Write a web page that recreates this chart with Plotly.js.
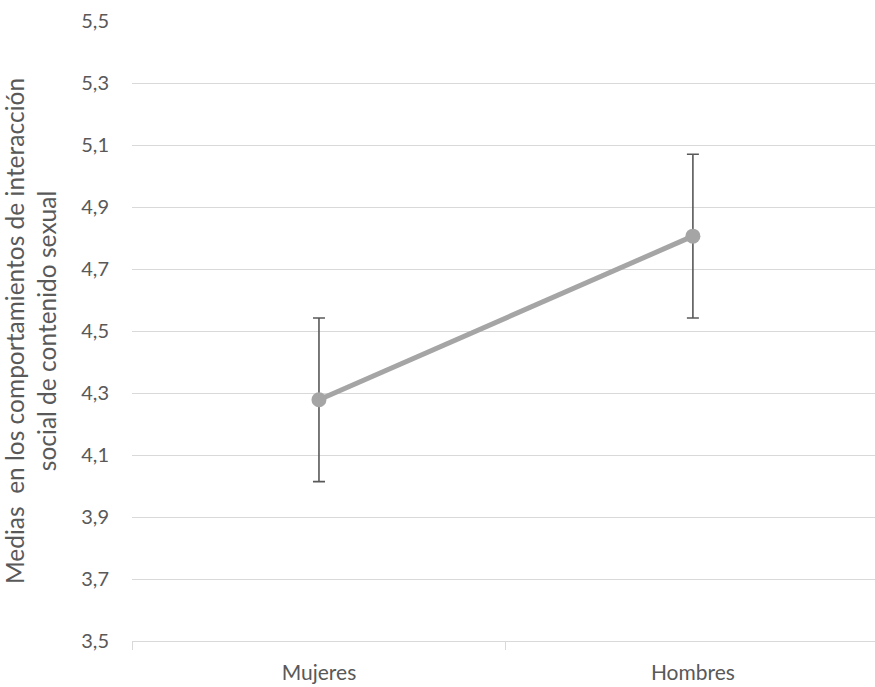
<!DOCTYPE html>
<html>
<head>
<meta charset="utf-8">
<script src="https://cdn.plot.ly/plotly-3.0.1.min.js"></script>
<style>html,body{margin:0;padding:0;background:#fff;}#chart{width:875px;height:687px;}</style>
</head>
<body>
<div id="chart"></div>
<script>
const categories = ['Mujeres', 'Hombres'];
const means = [4.278, 4.806];
const errors = [0.264, 0.264];
const yTitle = 'Medias  en los comportamientos de interacción<br>social de contenido sexual';

const trace = {
  x: categories,
  y: means,
  type: 'scatter',
  mode: 'lines+markers',
  line: {color: '#A5A5A5', width: 5},
  marker: {color: '#A5A5A5', size: 15},
  error_y: {type: 'data', array: errors, visible: true, color: '#595959', thickness: 1.6, width: 6},
  hoverinfo: 'none'
};

const layout = {
  width: 875, height: 687,
  margin: {l: 132, r: 0, t: 21, b: 46},
  paper_bgcolor: '#fff', plot_bgcolor: '#fff',
  separators: ',.',
  showlegend: false,
  font: {family: 'Lato, "Open Sans", sans-serif', color: '#595959', size: 16},
  xaxis: {
    type: 'category',
    range: [-0.5, 1.487],
    showgrid: false, zeroline: false,
    showline: true, linecolor: '#D9D9D9', linewidth: 1,
    ticks: 'outside', tickson: 'boundaries', ticklen: 8, tickcolor: '#D9D9D9',
    tickfont: {size: 21, color: '#595959'},
    ticklabelstandoff: 13
  },
  yaxis: {
    range: [3.5, 5.5],
    dtick: 0.2, tick0: 3.5,
    tickformat: '.1f',
    showgrid: true, gridcolor: '#D9D9D9', gridwidth: 1,
    zeroline: false, showline: false, ticks: '',
    tickfont: {size: 20, color: '#595959'},
    ticklabelstandoff: 22,
    title: {text: yTitle, font: {size: 24.5, color: '#595959'}, standoff: 18}
  }
};

Plotly.newPlot('chart', [trace], layout, {staticPlot: true, displayModeBar: false});
</script>
</body>
</html>
